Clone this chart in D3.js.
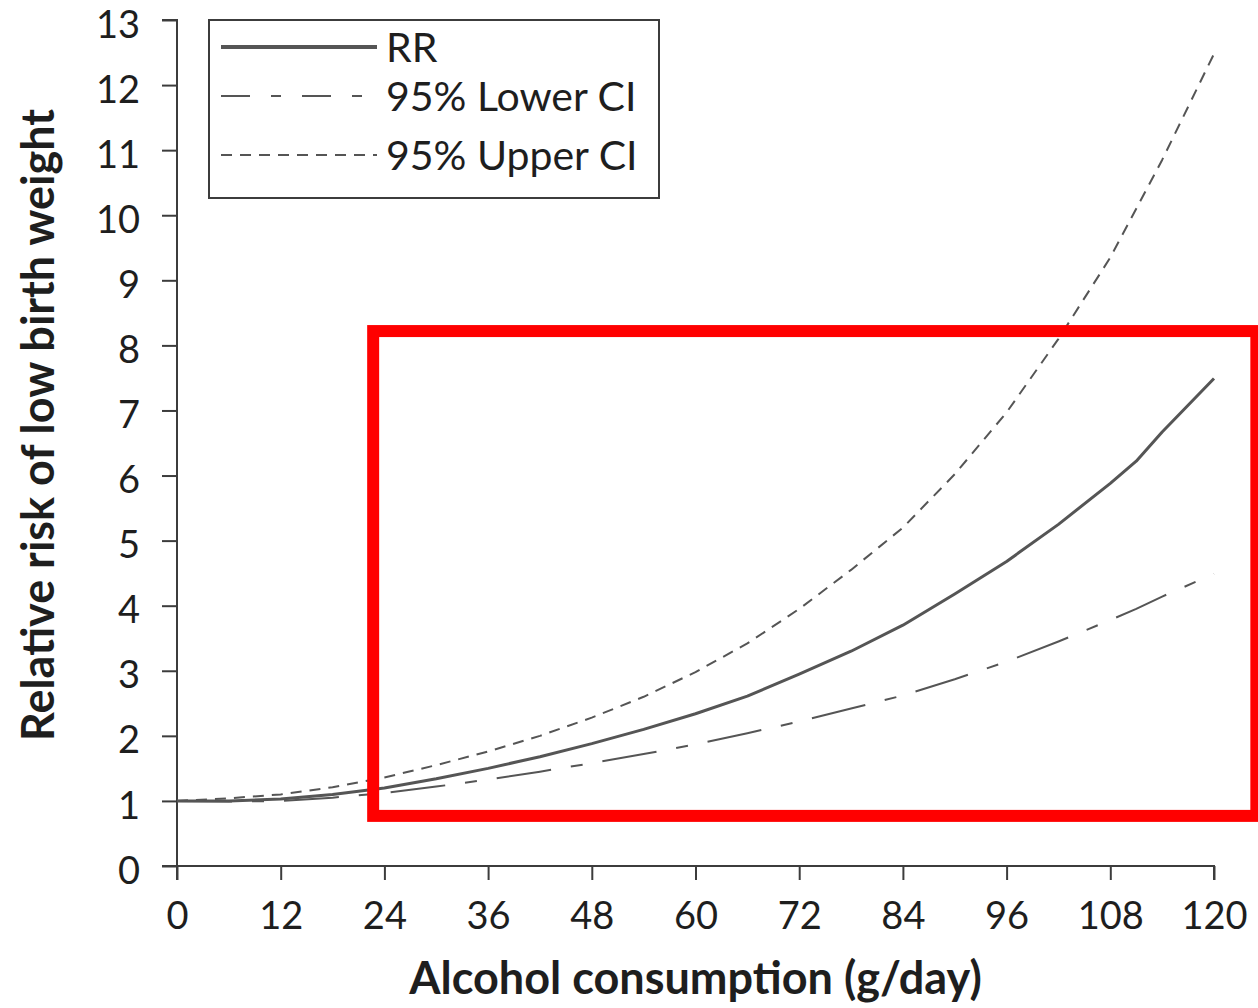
<!DOCTYPE html>
<html>
<head>
<meta charset="utf-8">
<script src="https://cdn.jsdelivr.net/npm/d3@7"></script>
<style>
  html, body { margin: 0; padding: 0; background: #fff; }
  svg { display: block; }
  text { font-family: Lato, "Open Sans", sans-serif; fill: #1e1e1e; }
</style>
</head>
<body>
<svg id="chart" width="1258" height="1008"></svg>
<script>
// Alcohol consumption (g/day)
const doses = [0, 6, 12, 18, 24, 30, 36, 42, 48, 54, 60, 66, 72, 78, 84, 90, 96, 102, 108, 111, 114, 120];
// Relative risk of low birth weight and its 95% confidence limits
const rr      = [1.00, 1.00, 1.03, 1.10, 1.20, 1.34, 1.50, 1.68, 1.88, 2.10, 2.34, 2.61, 2.95, 3.30, 3.70, 4.18, 4.68, 5.25, 5.88, 6.22, 6.67, 7.49];
const lowerCI = [1.00, 0.99, 1.00, 1.05, 1.12, 1.22, 1.33, 1.45, 1.58, 1.72, 1.87, 2.04, 2.22, 2.42, 2.62, 2.87, 3.14, 3.45, 3.78, 3.95, 4.14, 4.49];
const upperCI = [1.00, 1.04, 1.10, 1.21, 1.36, 1.55, 1.76, 2.00, 2.28, 2.60, 2.98, 3.42, 3.95, 4.55, 5.20, 6.02, 6.97, 8.10, 9.35, 10.10, 10.85, 12.48];

const xTicks = [0, 12, 24, 36, 48, 60, 72, 84, 96, 108, 120];
const yTicks = d3.range(0, 14);

const seriesNames = ["RR", "95% Lower CI", "95% Upper CI"];
const seriesValues = [rr, lowerCI, upperCI];

// highlighted region, in data units
const highlightX = [22.7, 124.9];
const highlightY = [0.77, 8.22];

const svg = d3.select("#chart");
const margin = { left: 177, right: 44, top: 20, bottom: 142 };
const W = 1258, H = 1008;

const x = d3.scaleLinear().domain([0, 120]).range([margin.left, W - margin.right]);
const y = d3.scaleLinear().domain([0, 13]).range([H - margin.bottom, margin.top]);

const ink = "#3c3c3c";
const lineInk = "#555";

// series styling
const styles = [
  { width: 3,   dash: null,            legendDash: null },
  { width: 2,   dash: "55,20,12,20",   legendDash: "29,21,10,21" },
  { width: 2,   dash: "11,8",          legendDash: "11,8" }
];

// axes
const yAxis = d3.axisLeft(y).tickValues(yTicks).tickSize(15).tickPadding(22).tickFormat(d3.format("d"));
const xAxis = d3.axisBottom(x).tickValues(xTicks).tickSize(14).tickPadding(22).tickFormat(d3.format("d"));

const gy = svg.append("g").attr("transform", `translate(${margin.left},0)`).call(yAxis);
const gx = svg.append("g").attr("transform", `translate(0,${y(0)})`).call(xAxis);

[gy, gx].forEach(g => {
  g.select(".domain").attr("stroke", ink).attr("stroke-width", 2);
  g.selectAll(".tick line").attr("stroke", ink).attr("stroke-width", 2);
  g.selectAll(".tick text")
    .attr("font-family", "Lato, 'Open Sans', sans-serif")
    .attr("font-size", 38)
    .attr("fill", "#1e1e1e");
});
gy.select(".domain").attr("d", `M-15,${y(13)}H0V${y(0)}H-15`);
gy.selectAll(".tick text").attr("dy", "0.45em");
gx.select(".domain").attr("d", `M${x(0)},14V0H${x(120)}V14`);

// axis titles
svg.append("text")
  .attr("x", (x(0) + x(120)) / 2)
  .attr("y", 994)
  .attr("text-anchor", "middle")
  .attr("font-size", 45)
  .attr("font-weight", "bold")
  .text("Alcohol consumption (g/day)");

svg.append("text")
  .attr("transform", `translate(54,425) rotate(-90)`)
  .attr("text-anchor", "middle")
  .attr("font-size", 45)
  .attr("font-weight", "bold")
  .text("Relative risk of low birth weight");

// curves
const line = d3.line()
  .x((d, i) => x(doses[i]))
  .y(d => y(d));

seriesValues.forEach((vals, k) => {
  svg.append("path")
    .datum(vals)
    .attr("d", line)
    .attr("fill", "none")
    .attr("stroke", lineInk)
    .attr("stroke-width", styles[k].width)
    .attr("stroke-linejoin", "round")
    .attr("stroke-dasharray", styles[k].dash);
});

// legend
const legend = svg.append("g");
legend.append("rect")
  .attr("x", 209).attr("y", 20)
  .attr("width", 450).attr("height", 178)
  .attr("fill", "#fff")
  .attr("stroke", ink)
  .attr("stroke-width", 2);

const rowY = [47, 96, 155];
seriesNames.forEach((name, k) => {
  legend.append("line")
    .attr("x1", 221).attr("x2", 377)
    .attr("y1", rowY[k]).attr("y2", rowY[k])
    .attr("stroke", lineInk)
    .attr("stroke-width", styles[k].width + (k === 0 ? 1 : 0))
    .attr("stroke-dasharray", styles[k].legendDash);
  legend.append("text")
    .attr("x", 386)
    .attr("y", rowY[k] + 15)
    .attr("font-size", 41)
    .text(name);
});

// red highlight frame
svg.append("rect")
  .attr("x", x(highlightX[0]))
  .attr("y", y(highlightY[1]))
  .attr("width", x(highlightX[1]) - x(highlightX[0]))
  .attr("height", y(highlightY[0]) - y(highlightY[1]))
  .attr("fill", "none")
  .attr("stroke", "#ff0000")
  .attr("stroke-width", 12);
</script>
</body>
</html>
